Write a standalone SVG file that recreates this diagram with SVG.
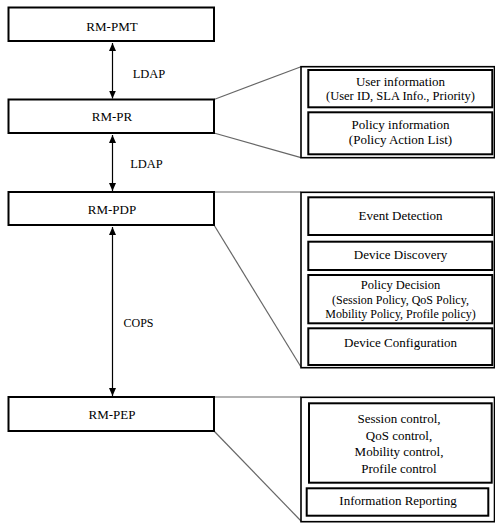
<svg xmlns="http://www.w3.org/2000/svg" width="495" height="523" viewBox="0 0 495 523">
<defs>
<style>
.box{fill:#fff;stroke:#000;stroke-width:2}
.outer{fill:#fff;stroke:#000;stroke-width:1.6}
.arr{stroke:#000;stroke-width:1.2;fill:none;marker-start:url(#ah);marker-end:url(#ah)}
.call{stroke:#666;stroke-width:1.2;fill:none}
</style>
<marker id="ah" viewBox="0 0 8 7" refX="8" refY="3.5" markerWidth="8" markerHeight="7" markerUnits="userSpaceOnUse" orient="auto-start-reverse">
<path d="M0,0 L8,3.5 L0,7 Z" fill="#000"/>
</marker>
</defs>
<rect width="495" height="523" fill="#fff"/>
<g font-family="Liberation Serif" text-anchor="middle" fill="#000">
<g id="connectors">
<line class="arr" x1="112.5" y1="43" x2="112.5" y2="98.5"/>
<line class="arr" x1="112.5" y1="135" x2="112.5" y2="191"/>
<line class="arr" x1="112.5" y1="227" x2="112.5" y2="396"/>
<text font-size="12.5" x="149" y="78">LDAP</text>
<text font-size="12.5" x="146.5" y="168">LDAP</text>
<text font-size="12" x="138.5" y="327">COPS</text>
<line class="call" x1="214" y1="99.5" x2="301" y2="66.7"/>
<line class="call" x1="214" y1="133" x2="301" y2="157.7"/>
<line class="call" x1="214" y1="192" x2="301" y2="192"/>
<line class="call" x1="214" y1="225" x2="301" y2="367"/>
<line class="call" x1="214" y1="397" x2="301" y2="397"/>
<line class="call" x1="214" y1="431" x2="301" y2="521"/>
</g>

<g id="rm-pmt">
<rect class="box" x="8.5" y="7.5" width="205.5" height="33.5"/>
<text font-size="13" x="112" y="30.5">RM-PMT</text>
</g>
<g id="rm-pr">
<rect class="box" x="8.5" y="99.5" width="205.5" height="33.5"/>
<text font-size="13" x="112" y="121">RM-PR</text>
</g>
<g id="rm-pdp">
<rect class="box" x="8.5" y="192" width="205.5" height="33"/>
<text font-size="13" x="112" y="214">RM-PDP</text>
</g>
<g id="rm-pep">
<rect class="box" x="8.5" y="397" width="205.5" height="34"/>
<text font-size="13" x="112" y="419">RM-PEP</text>
</g>

<g id="pr-detail">
<rect class="outer" x="301" y="66.7" width="193.5" height="91"/>
<rect class="box" x="308.3" y="70" width="184" height="37.3"/>
<text font-size="13" x="400.5" y="85.5">User information</text>
<text font-size="12.5" x="400.5" y="100">(User ID, SLA Info., Priority)</text>
<rect class="box" x="308.3" y="112.3" width="184" height="42"/>
<text font-size="13" x="400.5" y="128.5">Policy information</text>
<text font-size="13" x="400.5" y="143.5">(Policy  Action List)</text>
</g>

<g id="pdp-detail">
<rect class="outer" x="301" y="192.3" width="193.5" height="175.4"/>
<rect class="box" x="308.3" y="197.3" width="184" height="37.7"/>
<text font-size="13" x="400.5" y="220">Event Detection</text>
<rect class="box" x="308.3" y="241.7" width="184" height="28.3"/>
<text font-size="13" x="400.5" y="259">Device Discovery</text>
<rect class="box" x="308.3" y="275" width="184" height="48.3"/>
<text font-size="12.5" x="400.5" y="289">Policy Decision</text>
<text font-size="12" x="400.5" y="304">(Session Policy, QoS Policy,</text>
<text font-size="12" x="400.5" y="318">Mobility Policy, Profile policy)</text>
<rect class="box" x="308.3" y="328.3" width="184" height="36.7"/>
<text font-size="13" x="400.5" y="347">Device Configuration</text>
</g>

<g id="pep-detail">
<rect class="outer" x="301" y="397.3" width="193.5" height="124.4"/>
<rect class="box" x="309" y="403.3" width="182.7" height="79.4"/>
<text font-size="13" x="399" y="423">Session control,</text>
<text font-size="13" x="399" y="439.5">QoS control,</text>
<text font-size="13" x="399" y="456">Mobility control,</text>
<text font-size="13" x="399" y="473">Profile  control</text>
<rect class="box" x="306.7" y="488.3" width="181.6" height="27.4"/>
<text font-size="13" x="398" y="505">Information Reporting</text>
</g>
</g>
</svg>
